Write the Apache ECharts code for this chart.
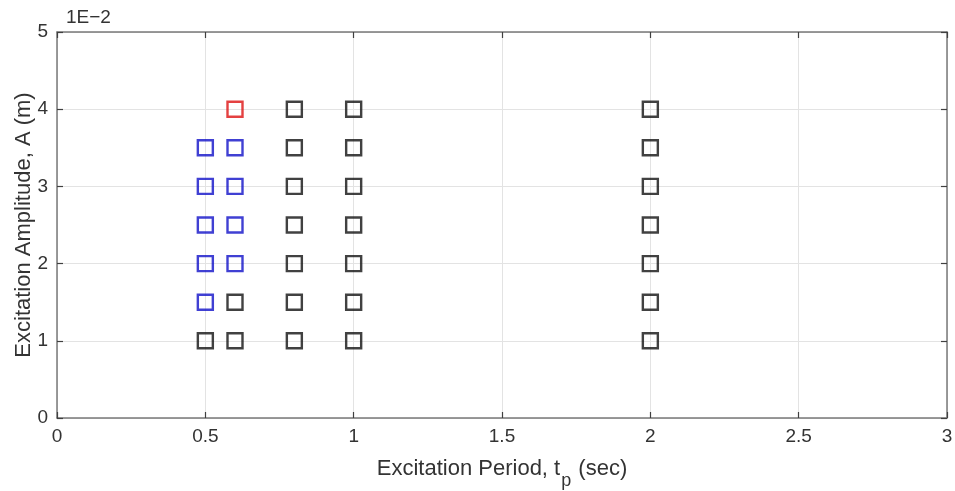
<!DOCTYPE html>
<html>
<head>
<meta charset="utf-8">
<script src="https://cdn.jsdelivr.net/npm/echarts@6/dist/echarts.min.js"></script>
<style>
  html, body { margin: 0; padding: 0; background: #fff; }
  #chart { width: 955px; height: 491px; }
</style>
</head>
<body>
<div id="chart"></div>
<script>
// Test points: excitation period (s) and amplitude (m), grouped by outcome
const blackPoints = [
  [0.5, 0.010],
  [0.6, 0.010], [0.6, 0.015],
  [0.8, 0.010], [0.8, 0.015], [0.8, 0.020], [0.8, 0.025], [0.8, 0.030], [0.8, 0.035], [0.8, 0.040],
  [1.0, 0.010], [1.0, 0.015], [1.0, 0.020], [1.0, 0.025], [1.0, 0.030], [1.0, 0.035], [1.0, 0.040],
  [2.0, 0.010], [2.0, 0.015], [2.0, 0.020], [2.0, 0.025], [2.0, 0.030], [2.0, 0.035], [2.0, 0.040]
];
const bluePoints = [
  [0.5, 0.015], [0.5, 0.020], [0.5, 0.025], [0.5, 0.030], [0.5, 0.035],
  [0.6, 0.020], [0.6, 0.025], [0.6, 0.030], [0.6, 0.035]
];
const redPoints = [
  [0.6, 0.040]
];
const yScaleLabel = '1E\u22122';

const axisGray = '#7a7a7a';
const tickGray = '#404040';
const textGray = '#333333';
const gridGray = '#e3e3e3';
const fontFamily = 'Liberation Sans, Arial, sans-serif';

function markerSeries(data, color) {
  return {
    type: 'scatter',
    data: data,
    symbol: 'rect',
    symbolSize: 15,
    itemStyle: { color: 'rgba(0,0,0,0)', borderColor: color, borderWidth: 2.4 },
    emphasis: { disabled: true },
    silent: true
  };
}

// Box frame: a mirror axis on each side carries inward ticks only
function frameAxis(base, position) {
  return Object.assign({}, base, {
    position: position,
    axisLine: { show: true, onZero: false, lineStyle: { color: axisGray, width: 1.5 } },
    axisTick: { show: true, inside: true, length: 6, lineStyle: { color: tickGray, width: 1.2 } },
    axisLabel: { show: false },
    splitLine: { show: false }
  });
}

const xBase = { type: 'value', min: 0, max: 3, interval: 0.5 };
const yBase = { type: 'value', min: 0, max: 0.05, interval: 0.01 };

const chart = echarts.init(document.getElementById('chart'));
chart.setOption({
  animation: false,
  backgroundColor: '#ffffff',
  textStyle: { fontFamily: fontFamily },
  grid: { left: 57, right: 8, top: 32, bottom: 73, containLabel: false, outerBoundsMode: 'none' },
  graphic: [{
    type: 'text',
    left: 66, top: 8,
    style: { text: yScaleLabel, font: '19px ' + fontFamily, fill: textGray }
  }],
  xAxis: [Object.assign({}, xBase, {
    position: 'bottom',
    axisLine: { show: true, onZero: false, lineStyle: { color: axisGray, width: 1.5 } },
    axisTick: { show: true, inside: true, length: 6, lineStyle: { color: tickGray, width: 1.2 } },
    axisLabel: { color: textGray, fontSize: 19, margin: 9, fontFamily: fontFamily },
    splitLine: { show: true, lineStyle: { color: gridGray, width: 1 } },
    name: '{a|Excitation Period, t}{s|p}{a| (sec)}',
    nameLocation: 'middle',
    nameGap: 30,
    nameMoveOverlap: false,
    nameTextStyle: {
      rich: {
        a: { fontSize: 22, color: textGray, fontFamily: fontFamily },
        s: { fontSize: 18, color: textGray, fontFamily: fontFamily, padding: [24, 1, 0, 1] }
      }
    }
  }), frameAxis(xBase, 'top')],
  yAxis: [Object.assign({}, yBase, {
    position: 'left',
    axisLine: { show: true, onZero: false, lineStyle: { color: axisGray, width: 1.5 } },
    axisTick: { show: true, inside: true, length: 6, lineStyle: { color: tickGray, width: 1.2 } },
    axisLabel: { color: textGray, fontSize: 19, margin: 9, fontFamily: fontFamily,
                 formatter: v => String(Math.round(v * 100)) },
    splitLine: { show: true, lineStyle: { color: gridGray, width: 1 } },
    name: 'Excitation Amplitude, A (m)',
    nameLocation: 'middle',
    nameGap: 22,
    nameMoveOverlap: false,
    nameTextStyle: { fontSize: 22, color: textGray, fontFamily: fontFamily }
  }), frameAxis(yBase, 'right')],
  series: [
    markerSeries(blackPoints, '#111111'),
    markerSeries(bluePoints, '#1010c8'),
    markerSeries(redPoints, '#dd1111')
  ]
});
</script>
</body>
</html>
